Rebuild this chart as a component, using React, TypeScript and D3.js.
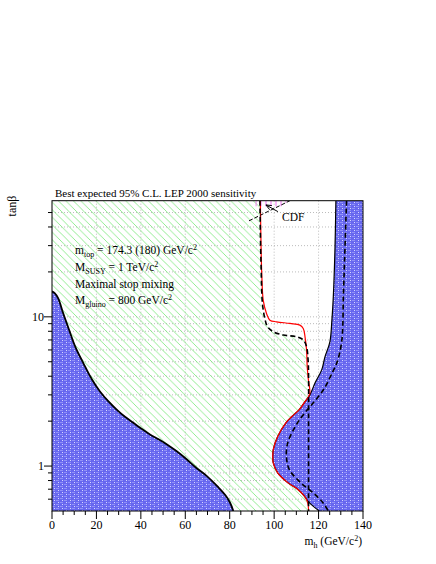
import React from 'react';
import * as d3 from 'd3';

// m_h (GeV/c^2), tan(beta) pairs
const leftBlueEdge: [number, number][] = [
  [0, 14.8], [1.2, 14.4], [2.8, 13.3], [5, 10.6], [7.8, 8.1], [10.5, 6.3], [14.1, 4.9],
  [18, 3.8], [21.6, 3.16], [25.3, 2.72], [29.1, 2.39], [33, 2.13], [36.6, 1.95],
  [40.5, 1.77], [44.1, 1.63], [48, 1.51], [51.6, 1.4], [56, 1.26], [60.6, 1.11],
  [65, 0.97], [69.6, 0.86], [74.5, 0.73], [78, 0.64], [80.1, 0.57], [81.6, 0.5],
];

const expected174: [number, number][] = [
  [93.6, 60], [93.9, 30], [94.2, 20], [94.4, 15], [94.8, 12], [95.9, 9.6], [97, 8.6],
  [99.6, 7.95], [104.1, 7.55], [110.1, 7.35], [113.1, 7.0], [114.6, 6.3], [115.3, 5.1],
  [115.5, 4], [115.5, 2], [115.5, 1], [115.5, 0.5],
];

const expected180: [number, number][] = [
  [93.8, 60], [94.1, 30], [94.5, 18], [95.1, 12.9], [96.6, 10.5], [98.1, 9.5],
  [101.1, 9.26], [107.1, 9.03], [111.6, 8.8], [113.1, 8.36], [113.9, 7.35], [114.6, 6.0],
  [114.9, 4.6], [115.4, 3.8], [116.0, 3.05], [113.5, 2.65], [111.3, 2.39], [108, 2.15],
  [105.3, 1.95], [101.6, 1.58], [99.6, 1.29], [99.4, 1.15], [99.6, 1.05], [101.6, 0.9],
  [106.1, 0.775], [110.6, 0.7], [113.6, 0.63], [115.1, 0.57], [115.5, 0.5],
];

const theoryEdge174: [number, number][] = [
  [127.8, 60], [127.4, 29.3], [126.7, 14.3], [126.0, 9.5], [125.1, 6.8], [122.9, 5.41],
  [121.4, 4.41], [118.4, 3.6], [116.1, 3.0], [113.5, 2.65], [111.3, 2.39], [108, 2.15],
  [105.3, 1.95], [101.6, 1.58], [99.6, 1.29], [99.4, 1.15], [99.6, 1.05], [101.6, 0.9],
  [106.1, 0.775], [110.6, 0.7], [113.6, 0.63], [115.5, 0.575], [117.8, 0.535], [120.3, 0.5],
];

const theoryEdge180: [number, number][] = [
  [132.6, 60], [131.9, 29.3], [131.2, 14.3], [130.4, 6.8], [128.2, 4.9], [126.4, 4.3],
  [122.5, 3.3], [118.5, 2.75], [115, 2.39], [111.5, 2.05], [108.8, 1.76], [106.1, 1.43],
  [105.5, 1.17], [106.8, 0.95], [111.3, 0.79], [117.4, 0.665], [121.9, 0.57], [124.4, 0.5],
];

const cdfLine: [number, number][] = [[88.7, 44], [107.1, 60]];
const cdfRegion: [number, number][] = [[91.5, 60], [91.5, 55], [104, 55], [106, 60]];
const cdfArrow: [number, number][] = [[101.7, 50.7], [96.3, 56.2]];

const mhMajor = [0, 20, 40, 60, 80, 100, 120, 140];
const mhMinor = d3.range(0, 141, 5);
const mhGrid = [20, 40, 60, 80, 100, 120];
const tbMajor = [1, 10];
const tbMinor = [0.6, 0.7, 0.8, 0.9, 2, 3, 4, 5, 6, 7, 8, 9, 20, 30, 40, 50];

const W = 436;
const H = 564;
const left = 52, right = 363, top = 200.7, bottom = 511;
const serif = '"Liberation Serif", "DejaVu Serif", serif';

export default function App() {
  const x = d3.scaleLinear().domain([0, 140]).range([left, right]);
  const y = d3.scaleLog().domain([0.5, 60]).range([bottom, top]);

  const curve = d3
    .line<[number, number]>()
    .x(d => x(d[0]))
    .y(d => y(d[1]))
    .curve(d3.curveCatmullRom.alpha(0.5));
  const straight = d3
    .line<[number, number]>()
    .x(d => x(d[0]))
    .y(d => y(d[1]));
  const cont = (pts: [number, number][]) => (curve(pts) || '').replace(/^M/, 'L');
  const pt = (p: [number, number]) => `L${x(p[0])},${y(p[1])}`;

  // LEP-excluded (hatched) area: from the left blue edge to the expected limit
  const hatchPath =
    `M${x(0)},${y(60)}` +
    cont(expected174) +
    pt([81.6, 0.5]) +
    cont([...leftBlueEdge].reverse()) +
    'Z';

  const leftBluePath = curve(leftBlueEdge) + pt([0, 0.5]) + 'Z';
  const rightBluePath = curve(theoryEdge174) + pt([140, 0.5]) + pt([140, 60]) + 'Z';

  const a0 = [x(cdfArrow[0][0]), y(cdfArrow[0][1])];
  const a1 = [x(cdfArrow[1][0]), y(cdfArrow[1][1])];
  const ang = Math.atan2(a1[1] - a0[1], a1[0] - a0[0]);
  const head = (s: number) =>
    `${a1[0] - 6 * Math.cos(ang + s)},${a1[1] - 6 * Math.sin(ang + s)}`;

  return (
    <svg
      width={W}
      height={H}
      style={{ position: 'absolute', left: 0, top: 0, background: '#fff' }}
      fontFamily={serif}
    >
      <defs>
        <pattern id="green" patternUnits="userSpaceOnUse" width="7.5" height="7.5">
          <path d="M-1,-1 L8.5,8.5 M-1,6.5 L1,8.5 M6.5,-1 L8.5,1" stroke="#78e878" strokeWidth="0.8" />
        </pattern>
        <pattern id="pink" patternUnits="userSpaceOnUse" width="5" height="5">
          <path d="M1,0 L1,5" stroke="#f070f0" strokeWidth="1" />
        </pattern>
        <pattern id="blue" patternUnits="userSpaceOnUse" width="8" height="4">
          <rect width="8" height="4" fill="#6767ef" />
          <rect x="0" y="0" width="3" height="1" fill="#9090f8" />
          <rect x="4" y="2" width="3" height="1" fill="#9090f8" />
          <rect x="6" y="0" width="1" height="1" fill="#d8d8ff" />
          <rect x="2" y="2" width="1" height="1" fill="#d8d8ff" />
        </pattern>
        <clipPath id="frame">
          <rect x={left} y={top} width={right - left} height={bottom - top} />
        </clipPath>
      </defs>

      {/* grid */}
      <g stroke="#aaa" strokeWidth={0.8} strokeDasharray="1,2">
        {mhGrid.map(v => (
          <line key={'gx' + v} x1={x(v)} x2={x(v)} y1={top} y2={bottom} />
        ))}
        {[...tbMajor, ...tbMinor].map(v => (
          <line key={'gy' + v} x1={left} x2={right} y1={y(v)} y2={y(v)} />
        ))}
      </g>

      <g clipPath="url(#frame)">
        <path d={hatchPath} fill="url(#green)" />
        <path d={straight(cdfRegion) + 'Z'} fill="url(#pink)" />
        <path d={leftBluePath} fill="url(#blue)" />
        <path d={rightBluePath} fill="url(#blue)" />

        <path d={curve(leftBlueEdge) || ''} fill="none" stroke="#000" strokeWidth={1.8} />
        <path d={curve(theoryEdge174) || ''} fill="none" stroke="#000" strokeWidth={1.2} />
        <path d={curve(theoryEdge180) || ''} fill="none" stroke="#000" strokeWidth={1.6} strokeDasharray="5,3" />
        <path d={curve(expected180) || ''} fill="none" stroke="#f00" strokeWidth={1.2} />
        <path d={curve(expected174) || ''} fill="none" stroke="#000" strokeWidth={1.6} strokeDasharray="5,3" />
        <path d={straight(cdfLine) || ''} fill="none" stroke="#000" strokeWidth={1} strokeDasharray="4,2" />
      </g>

      {/* CDF arrow */}
      <line x1={a0[0]} y1={a0[1]} x2={a1[0]} y2={a1[1]} stroke="#000" strokeWidth={1} />
      <polyline points={`${head(0.4)} ${a1[0]},${a1[1]} ${head(-0.4)}`} fill="none" stroke="#000" strokeWidth={1} />
      <text x={282} y={221} fontSize={11.5}>CDF</text>

      {/* frame */}
      <rect x={left} y={top} width={right - left} height={bottom - top} fill="none" stroke="#000" strokeWidth={1} />

      {/* axes */}
      <g stroke="#000" strokeWidth={1}>
        {mhMinor.map(v => (
          <line key={'tx' + v} x1={x(v)} x2={x(v)} y1={bottom} y2={bottom + (v % 20 === 0 ? 8 : 4)} />
        ))}
        {tbMinor.map(v => (
          <line key={'ty' + v} x1={left} x2={left - 4} y1={y(v)} y2={y(v)} />
        ))}
        {tbMajor.map(v => (
          <line key={'tY' + v} x1={left} x2={left - 8} y1={y(v)} y2={y(v)} />
        ))}
      </g>
      <g fontSize={12} textAnchor="middle">
        {mhMajor.map(v => (
          <text key={'lx' + v} x={x(v)} y={529}>{v}</text>
        ))}
      </g>
      <g fontSize={12} textAnchor="end">
        {tbMajor.map(v => (
          <text key={'ly' + v} x={44} y={y(v) + 4}>{v}</text>
        ))}
      </g>

      <text x={362} y={545} fontSize={11.5} textAnchor="end">
        m<tspan fontSize={8} dy={3}>h</tspan>
        <tspan dy={-3}> (GeV/c</tspan>
        <tspan fontSize={8} dy={-4}>2</tspan>
        <tspan dy={4}>)</tspan>
      </text>
      <text transform="translate(16,206) rotate(-90)" fontSize={12} textAnchor="middle">tanβ</text>

      <text x={55} y={197} fontSize={11}>Best expected 95% C.L. LEP 2000 sensitivity</text>

      <g fontSize={11.5}>
        <text x={75} y={254}>
          m<tspan fontSize={8} dy={3}>top</tspan>
          <tspan dy={-3}> = 174.3 (180) GeV/c</tspan>
          <tspan fontSize={8} dy={-4}>2</tspan>
        </text>
        <text x={75} y={271}>
          M<tspan fontSize={8} dy={3}>SUSY</tspan>
          <tspan dy={-3}> = 1 TeV/c</tspan>
          <tspan fontSize={8} dy={-4}>2</tspan>
        </text>
        <text x={75} y={287.5}>Maximal stop mixing</text>
        <text x={75} y={304}>
          M<tspan fontSize={8} dy={3}>gluino</tspan>
          <tspan dy={-3}> = 800 GeV/c</tspan>
          <tspan fontSize={8} dy={-4}>2</tspan>
        </text>
      </g>
    </svg>
  );
}
